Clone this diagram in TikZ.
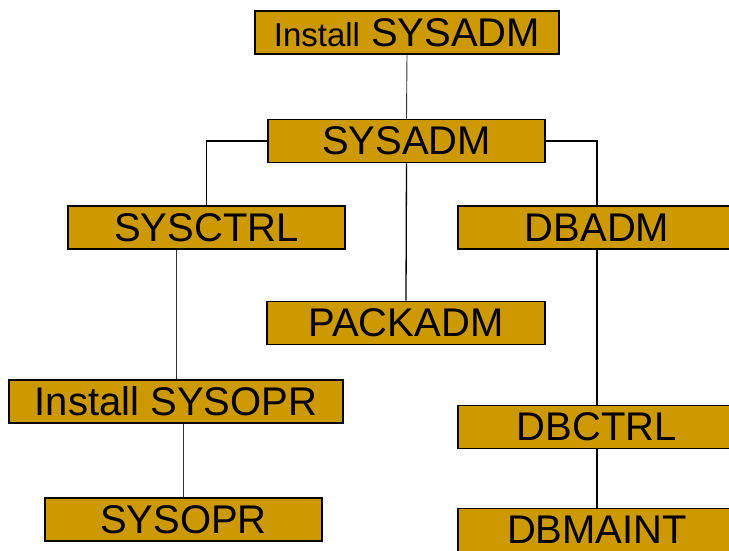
\documentclass[tikz,border=0pt]{standalone}
\usepackage{fontspec}
\setmainfont{Liberation Sans}
\usetikzlibrary{positioning}

\definecolor{roleorange}{HTML}{CC9900}

\begin{document}
\begin{tikzpicture}[
  x=1pt, y=-1pt,
  role/.style={draw, line width=1.6pt, fill=roleorange, minimum width=277pt, minimum height=43pt, inner sep=0pt, font=\fontsize{40}{42}\selectfont},
  link/.style={line width=1.3pt},
  thinlink/.style={line width=0.9pt, black!80}
]
\newcommand{\smalltxt}[1]{{\fontsize{33}{35}\selectfont #1}}
\useasboundingbox (0,0) rectangle (729,550);

\node[role, minimum width=304pt] (isysadm) at (407,32.5) {\smalltxt{Install} SYSADM};
\node[role] (sysadm) at (406.5,141) {SYSADM};
\node[role] (sysctrl) at (206.5,227.5) {SYSCTRL};
\node[role, minimum width=278pt] (dbadm) at (597,227.5) {DBADM};
\node[role, minimum width=278pt] (packadm) at (406,323) {PACKADM};
\node[role, minimum width=334pt] (isysopr) at (176,401.5) {Install SYSOPR};
\node[role] (sysopr) at (183.5,519.5) {SYSOPR};
\node[role, minimum width=278pt] (dbctrl) at (597,427) {DBCTRL};
\node[role, minimum width=278pt] (dbmaint) at (597,530) {DBMAINT};

% links
\draw[thinlink] (isysadm.south) -- (sysadm.north);
\draw[link] (sysadm.west) -| (sysctrl.north);
\draw[link] (sysadm.east) -| (dbadm.north);
\draw[link] (sysadm.south) -- (packadm.north);
\draw[thinlink] (isysopr.north) -- (isysopr.north |- sysctrl.south);
\draw[thinlink] (sysopr.north) -- (sysopr.north |- isysopr.south);
\draw[link] (dbadm.south) -- (dbctrl.north);
\draw[link] (dbctrl.south) -- (dbmaint.north);

\end{tikzpicture}
\end{document}
